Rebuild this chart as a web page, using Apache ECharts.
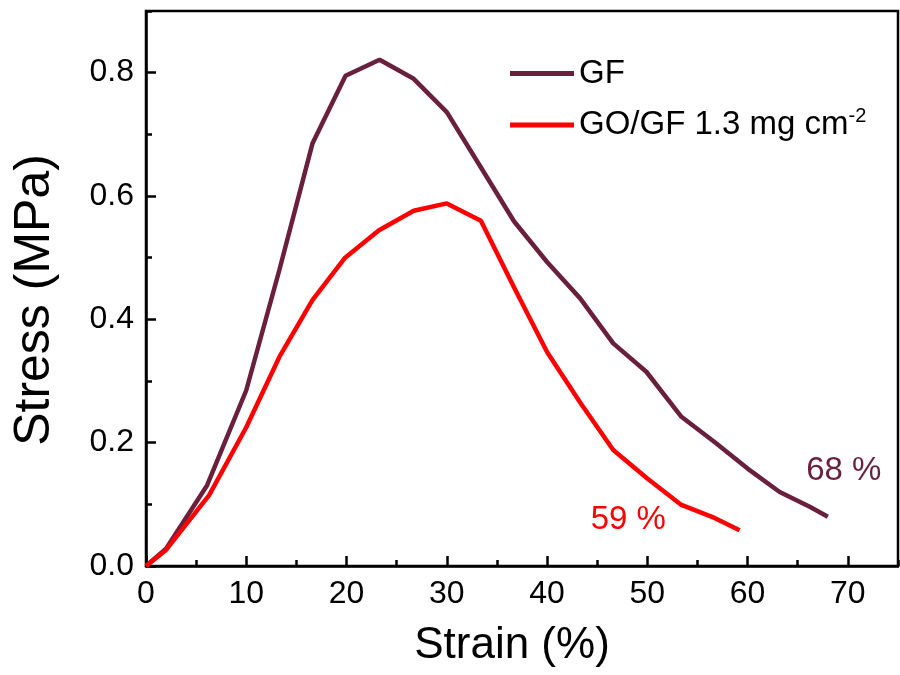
<!DOCTYPE html>
<html>
<head>
<meta charset="utf-8">
<script src="https://cdn.jsdelivr.net/npm/echarts@6/dist/echarts.min.js"></script>
<style>html,body{margin:0;padding:0;background:#fff}#c{width:900px;height:675px}</style>
</head>
<body>
<div id="c"></div>
<script>
const gfStrain = [0, 2, 6.1, 10, 13.3, 16.6, 19.9, 23.3, 26.7, 30, 33.3, 36.7, 40, 43.3, 46.6, 49.9, 53.4, 56.7, 60, 63.2, 66.2, 68];
const gfStress = [0, 0.028, 0.131, 0.285, 0.48, 0.685, 0.795, 0.821, 0.79, 0.736, 0.649, 0.559, 0.493, 0.434, 0.361, 0.315, 0.242, 0.201, 0.158, 0.12, 0.096, 0.080];
const goStrain = [0, 2, 6.3, 10, 13.3, 16.6, 19.8, 23.2, 26.7, 30, 33.4, 36.7, 40, 43.3, 46.6, 50, 53.4, 56.7, 59.2];
const goStress = [0, 0.026, 0.115, 0.225, 0.339, 0.431, 0.499, 0.544, 0.576, 0.588, 0.560, 0.452, 0.347, 0.265, 0.188, 0.142, 0.099, 0.078, 0.058];
const seriesNames = ['GF', 'GO/GF 1.3 mg cm-2'];
const xTitle = 'Strain (%)';
const yTitle = 'Stress (MPa)';
const annotGF = {text: '68 %', coord: [69.6, 0.155]};
const annotGO = {text: '59 %', coord: [48.1, 0.074]};

const font = 'Liberation Sans, Arial, sans-serif';
const chart = echarts.init(document.getElementById('c'));
const pair = (xs, ys) => xs.map((x, i) => [x, ys[i]]);
const tickStyle = {color: '#000', width: 2.5};
chart.setOption({
  animation: false,
  grid: {left: 146, top: 11, right: 2, bottom: 109, show: true, borderColor: '#000', borderWidth: 2.5, backgroundColor: 'transparent'},
  legend: {
    left: 505, top: 52, orient: 'vertical', itemWidth: 64, itemHeight: 5, itemGap: 16, icon: 'rect',
    textStyle: {fontFamily: font, fontSize: 33, color: '#000',
      rich: {sup: {fontFamily: font, fontSize: 20, color: '#000', verticalAlign: 'top', padding: [0, 0, 18, 0]}}},
    formatter: n => n === seriesNames[1] ? 'GO/GF 1.3 mg cm{sup|-2}' : n,
    data: seriesNames
  },
  graphic: [{
    type: 'text', x: 35, y: 300, rotation: Math.PI / 2,
    style: {text: yTitle, fontFamily: font, fontSize: 50, fill: '#000', align: 'center', verticalAlign: 'middle'}
  }],
  xAxis: [{
    type: 'value', min: 0, max: 75, interval: 10,
    name: xTitle, nameLocation: 'middle', nameGap: 58,
    nameTextStyle: {fontFamily: font, fontSize: 44, color: '#000', padding: [0, 20, 0, 0]},
    axisLine: {lineStyle: {color: '#000', width: 2.5}},
    axisTick: {inside: true, length: 10, lineStyle: tickStyle},
    axisLabel: {fontFamily: font, fontSize: 32, color: '#000', margin: 12, showMaxLabel: false},
    splitLine: {show: false}
  }, {
    type: 'value', min: 0, max: 75, interval: 5, position: 'bottom', gridIndex: 0,
    axisLine: {show: false},
    axisTick: {inside: true, length: 6, lineStyle: tickStyle},
    axisLabel: {show: false}, splitLine: {show: false}
  }],
  yAxis: [{
    type: 'value', min: 0, max: 0.9, interval: 0.2,
    axisLine: {lineStyle: {color: '#000', width: 2.5}},
    axisTick: {inside: true, length: 10, lineStyle: tickStyle},
    axisLabel: {fontFamily: font, fontSize: 32, color: '#000', margin: 12, showMaxLabel: false, formatter: v => v.toFixed(1)},
    splitLine: {show: false}
  }, {
    type: 'value', min: 0, max: 0.9, interval: 0.1, position: 'left', offset: 0, gridIndex: 0,
    axisLine: {show: false},
    axisTick: {inside: true, length: 6, lineStyle: tickStyle},
    axisLabel: {show: false}, splitLine: {show: false}
  }],
  series: [
    {name: seriesNames[0], type: 'line', data: pair(gfStrain, gfStress), showSymbol: false, symbol: 'none',
     lineStyle: {color: '#6a1f3d', width: 4.5}, itemStyle: {color: '#6a1f3d'}, z: 3,
     markPoint: {symbol: 'circle', symbolSize: 0, data: [{coord: annotGF.coord, value: annotGF.text}],
       label: {show: true, position: 'inside', formatter: annotGF.text, fontFamily: font, fontSize: 33, color: '#6a1f3d'}}},
    {name: seriesNames[1], type: 'line', data: pair(goStrain, goStress), showSymbol: false, symbol: 'none',
     lineStyle: {color: '#ff0000', width: 4.5}, itemStyle: {color: '#ff0000'}, z: 4,
     markPoint: {symbol: 'circle', symbolSize: 0, data: [{coord: annotGO.coord, value: annotGO.text}],
       label: {show: true, position: 'inside', formatter: annotGO.text, fontFamily: font, fontSize: 33, color: '#ff0000'}}}
  ]
});
</script>
</body>
</html>
